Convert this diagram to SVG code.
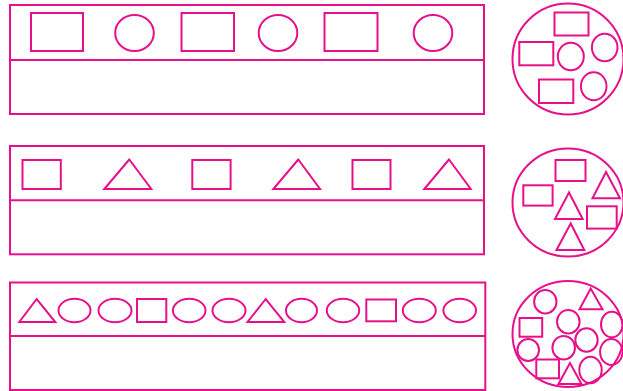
<svg xmlns="http://www.w3.org/2000/svg" width="623" height="391" viewBox="0 0 623 391">
<style>
.s{fill:none;stroke:#e8108a;stroke-width:2}
</style>
<rect width="623" height="391" fill="#fff"/>
<g id="row1" class="s">
<rect x="10" y="5" width="474" height="109"/>
<line x1="10" y1="60" x2="484" y2="60"/>
<rect x="31" y="13" width="52" height="38"/>
<ellipse cx="134.5" cy="33" rx="19.3" ry="18"/>
<rect x="181.5" y="13" width="52.5" height="38"/>
<ellipse cx="278" cy="33" rx="19.3" ry="18"/>
<rect x="324.5" y="13" width="53" height="38"/>
<ellipse cx="433" cy="33" rx="19.3" ry="18"/>
</g>
<g id="set1" class="s">
<ellipse cx="568" cy="59" rx="55.5" ry="55.5"/>
<rect x="554.5" y="12.5" width="34" height="23"/>
<rect x="519.3" y="42" width="34" height="23.3"/>
<ellipse cx="570.8" cy="56.5" rx="13" ry="13.8"/>
<ellipse cx="604.7" cy="47.5" rx="12.8" ry="13.8"/>
<rect x="539" y="79.5" width="34.3" height="23.5"/>
<ellipse cx="593.7" cy="86.3" rx="12.8" ry="14"/>
</g>
<g id="row2" class="s">
<rect x="10" y="146" width="474" height="108.3"/>
<line x1="10" y1="200.3" x2="484" y2="200.3"/>
<rect x="22.5" y="160" width="38.3" height="29"/>
<polygon points="129.3,159.5 104.3,189 151.3,189"/>
<rect x="192.3" y="160" width="38.3" height="29"/>
<polygon points="298.3,159.5 273.3,189 320,189"/>
<rect x="352.5" y="160" width="38" height="29"/>
<polygon points="449,159.5 424.3,189 470.7,189"/>
</g>
<g id="set2" class="s">
<ellipse cx="568" cy="202.5" rx="55.5" ry="54"/>
<rect x="555.5" y="160" width="30" height="21"/>
<rect x="523.3" y="185.3" width="29.3" height="20.3"/>
<polygon points="606,172 592.5,198.3 620,198.3"/>
<polygon points="569,192.5 555,219 582.7,219"/>
<rect x="587" y="206.3" width="29.7" height="22.3"/>
<polygon points="570.7,223.5 556.5,250 584.3,250"/>
</g>
<g id="row3" class="s">
<rect x="10" y="282.5" width="475.3" height="107.5"/>
<line x1="10" y1="336" x2="485.3" y2="336"/>
<polygon points="36.7,299 19.3,322 55.3,322"/>
<ellipse cx="74.5" cy="310.5" rx="16" ry="11.7"/>
<ellipse cx="115" cy="310.5" rx="16.5" ry="11.7"/>
<rect x="137" y="299" width="29.3" height="23"/>
<ellipse cx="189.2" cy="310.5" rx="16.3" ry="11.7"/>
<ellipse cx="229" cy="310.5" rx="16.5" ry="11.7"/>
<polygon points="265.7,299 247.5,322 284.3,322"/>
<ellipse cx="301.5" cy="310.5" rx="15.5" ry="11.7"/>
<ellipse cx="343" cy="310.5" rx="16.2" ry="11.7"/>
<rect x="366.3" y="299.5" width="29.7" height="21.8"/>
<ellipse cx="419.3" cy="310.5" rx="16.5" ry="11.7"/>
<ellipse cx="459.7" cy="310.5" rx="16.3" ry="11.7"/>
</g>
<g id="set3" class="s">
<ellipse cx="568" cy="334" rx="55.5" ry="53"/>
<ellipse cx="545.3" cy="301.7" rx="11.2" ry="11.7"/>
<polygon points="590.7,288.5 579.5,309.3 602.5,309.3"/>
<ellipse cx="568.3" cy="321.7" rx="11.3" ry="11.7"/>
<ellipse cx="611.8" cy="324.5" rx="10.8" ry="12.8"/>
<rect x="519.5" y="318" width="22.7" height="18.7"/>
<ellipse cx="586.5" cy="340" rx="11.2" ry="11.7"/>
<ellipse cx="528.2" cy="350" rx="10.8" ry="11"/>
<ellipse cx="563.7" cy="347.7" rx="11.3" ry="11.7"/>
<ellipse cx="611.3" cy="352" rx="11.2" ry="13"/>
<rect x="536.3" y="359.5" width="22.7" height="18.8"/>
<polygon points="570,363 558.5,384 581.5,384"/>
<ellipse cx="590.5" cy="370" rx="11.2" ry="13.3"/>
</g>
</svg>
